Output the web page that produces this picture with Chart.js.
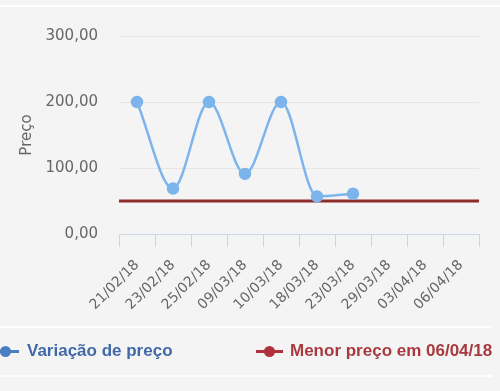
<!DOCTYPE html>
<html>
<head>
<meta charset="utf-8">
<script src="https://cdn.jsdelivr.net/npm/chart.js@4"></script>
<style>
    html, body { margin: 0; padding: 0; background: #f4f4f4; }
    #wrap { position: relative; width: 500px; height: 391px; overflow: hidden; }
    #chart { position: absolute; left: 0; top: 0; }
    .hline { position: absolute; left: 0; width: 492px; height: 2px; background: #fdfdfd; }
    .item { position: absolute; top: 340px; height: 22px; font: bold 17px "Liberation Sans", Arial, sans-serif; line-height: 22px; white-space: nowrap; }
    .item .bar { position: absolute; top: 10px; width: 27px; height: 3px; }
    .item .dot { position: absolute; top: 6px; width: 11px; height: 11px; border-radius: 50%; }
    .item .txt { position: absolute; top: 0; }
</style>
</head>
<body>
<div id="wrap">
    <div class="hline" style="top:5px;width:500px"></div>
    <canvas id="chart" width="500" height="391"></canvas>
    <div class="hline" style="top:326px"></div>
    <div class="hline" style="top:375px"></div>
    <div id="legend"></div>
</div>
<script>
    // dates on the x axis
    var labels = ['21/02/18', '23/02/18', '25/02/18', '09/03/18', '10/03/18',
                  '18/03/18', '23/03/18', '29/03/18', '03/04/18', '06/04/18'];
    // price per date (no data for the last three)
    var precos = [200, 69, 200, 91, 200, 57, 61, null, null, null];
    // lowest price line
    var menorPreco = 50;
    var yTicks = [0, 100, 200, 300];

    var fmt = function (v) { return v.toFixed(2).replace('.', ','); };

    var ctx = document.getElementById('chart').getContext('2d');
    var chart = new Chart(ctx, {
        type: 'line',
        data: {
            labels: labels,
            datasets: [{
                label: 'Variação de preço',
                data: precos,
                borderColor: '#7cb5ec',
                backgroundColor: '#7cb5ec',
                borderWidth: 2.5,
                pointRadius: 5,
                pointHoverRadius: 5,
                cubicInterpolationMode: 'monotone',
                spanGaps: false,
                legendColor: '#4a7fc1',
                legendText: '#4169a8'
            }, {
                label: 'Menor preço em 06/04/18',
                data: [{ x: 0, y: menorPreco }, { x: 1, y: menorPreco }],
                xAxisID: 'xr',
                borderColor: '#8e2b2b',
                backgroundColor: '#8e2b2b',
                borderWidth: 3,
                pointRadius: 0,
                legendColor: '#b0303c',
                legendText: '#a83a3f'
            }]
        },
        options: {
            responsive: false,
            animation: false,
            layout: { padding: { left: 0, right: 21, top: 36, bottom: 0 } },
            plugins: { legend: { display: false }, tooltip: { enabled: false } },
            scales: {
                x: {
                    type: 'category',
                    offset: true,
                    grid: { offset: true, drawOnChartArea: false, color: '#ccd6eb', tickLength: 13 },
                    border: { color: '#ccd6eb' },
                    ticks: {
                        color: '#666', font: { family: 'DejaVu Sans', size: 14 },
                        minRotation: 45, maxRotation: 45, padding: 10, autoSkip: false
                    },
                    afterFit: function (s) { s.height = 157; }
                },
                xr: { type: 'linear', min: 0, max: 1, display: false },
                y: {
                    min: 0, max: 300,
                    afterBuildTicks: function (s) { s.ticks = yTicks.map(function (v) { return { value: v }; }); },
                    grid: { color: '#e6e6e6', drawTicks: false },
                    border: { display: false },
                    ticks: {
                        color: '#666', padding: 21, font: { family: 'DejaVu Sans', size: 15 },
                        callback: function (v) { return fmt(v); }
                    },
                    title: {
                        display: true, text: 'Preço', color: '#666',
                        font: { family: 'DejaVu Sans', size: 15 }, padding: { top: 18, bottom: 0 }
                    },
                    afterFit: function (s) { s.width = 119; }
                }
            }
        }
    });

    // html legend, built from the datasets
    var pos = [{ bar: -8, text: 27 }, { bar: 256, text: 290 }];
    var leg = document.getElementById('legend');
    chart.data.datasets.forEach(function (ds, i) {
        var it = document.createElement('div');
        it.className = 'item';
        it.style.left = '0px';
        it.innerHTML =
            '<span class="bar" style="left:' + pos[i].bar + 'px;background:' + ds.legendColor + '"></span>' +
            '<span class="dot" style="left:' + (pos[i].bar + 8) + 'px;background:' + ds.legendColor + '"></span>' +
            '<span class="txt" style="left:' + pos[i].text + 'px;color:' + ds.legendText + '">' + ds.label + '</span>';
        leg.appendChild(it);
    });
</script>
</body>
</html>
